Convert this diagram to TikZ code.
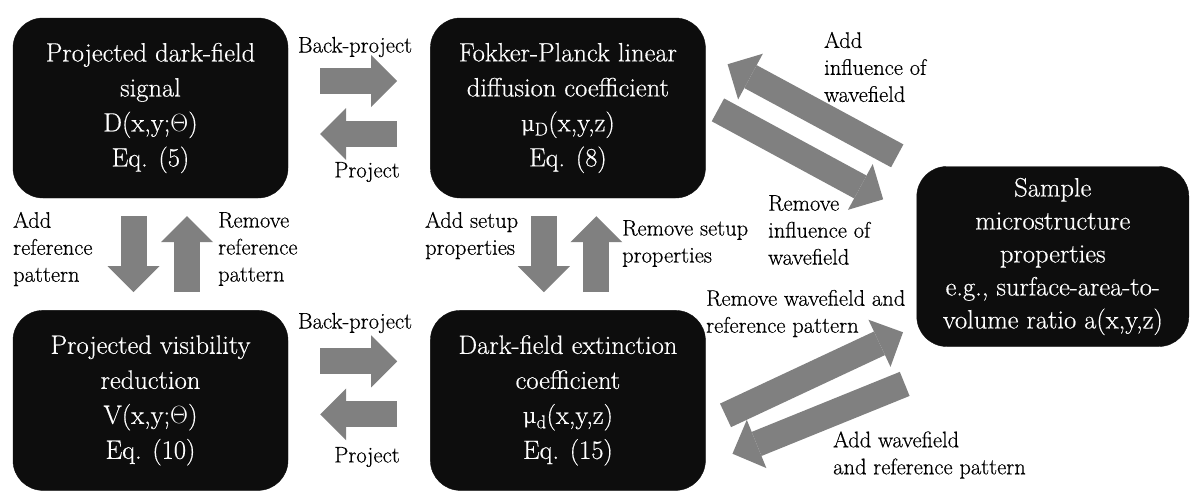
\documentclass[tikz,border=0pt]{standalone}
\usepackage{fontspec}
\newfontfamily\boxrm{Latin Modern Roman}[FakeBold=0.5]
\newfontfamily\greekfont{DejaVu Serif}
\usepackage{tikz}
\usetikzlibrary{positioning,arrows.meta}
\definecolor{boxblack}{RGB}{13,13,13}
\definecolor{arrowgray}{RGB}{128,128,128}
\newcommand{\mumu}{{\greekfont\fontsize{0.8em}{0pt}\selectfont μ}}

\begin{document}
\begin{tikzpicture}[
    x=1pt, y=-1pt,
    quantity/.style={rectangle, rounded corners=30pt, minimum width=275pt, minimum height=180pt, align=center, fill=boxblack, draw=boxblack, text=white, font=\boxrm\fontsize{26.5pt}{35pt}\selectfont, execute at begin node={\rule{0pt}{\baselineskip}}},
    note/.style={inner sep=0pt, font=\boxrm\fontsize{22.5pt}{27pt}\selectfont},
    fat/.style={draw=arrowgray, line width=26pt, -{Triangle[width=52pt, length=26pt, line width=0pt]}},
    node distance=112pt and 142pt
]
    \useasboundingbox (0,0) rectangle (1196,501);

    \node[quantity] (projD) at (150.5,108) {Projected dark-field\\signal\\D(x,y;$\Theta$)\\Eq. (5)};
    \node[quantity, right=of projD] (fokker) {Fokker-Planck linear\\diffusion coefficient\\\mumu\textsubscript{D}(x,y,z)\\Eq. (8)};
    \node[quantity, below=of projD] (projV) {Projected visibility\\reduction\\V(x,y;$\Theta$)\\Eq. (10)};
    \node[quantity, below=of fokker] (extinct) {Dark-field extinction\\coefficient\\\mumu\textsubscript{d}(x,y,z)\\Eq. (15)};
    \node[quantity, minimum width=272pt, font=\boxrm\fontsize{26.5pt}{33pt}\selectfont, right=211pt of fokker, yshift=-148.5pt] (sample) {Sample\\microstructure\\properties\\e.g., surface-area-to-\\volume ratio a(x,y,z)};

    \node[note] (bpUp) at (355,47) {Back-project};
    \node[note] (pUp) at (367,172) {Project};
    \node[note] (bpLow) at (355,323) {Back-project};
    \node[note] (pLow) at (367,457) {Project};
    \node[note, anchor=west, align=left] (addRef) at (13,249) {Add\\reference\\pattern};
    \node[note, anchor=west, align=left] (remRef) at (218,249) {Remove\\reference\\pattern};
    \node[note, anchor=west, align=left] (addSetup) at (425,235.5) {Add setup\\properties};
    \node[note, anchor=west, align=left] (remSetup) at (622,243.5) {Remove setup\\properties};
    \node[note, anchor=west, align=left] (addInfl) at (824,67) {Add\\influence of\\wavefield};
    \node[note, anchor=west, align=left] (remInfl) at (768,230) {Remove\\influence of\\wavefield};
    \node[note, anchor=west, align=left] (remWave) at (706,313.5) {Remove wavefield and\\reference pattern};
    \node[note, anchor=west, align=left] (addWave) at (833,455) {Add wavefield\\and reference pattern};

    \draw[fat, shorten <=32pt, shorten >=33pt] ([yshift=27pt]projD.east) -- ([yshift=27pt]fokker.west);
    \draw[fat, shorten <=33pt, shorten >=32pt] ([yshift=-26pt]fokker.west) -- ([yshift=-26pt]projD.east);
    \draw[fat, shorten <=32pt, shorten >=33pt] ([yshift=39pt]projV.east) -- ([yshift=39pt]extinct.west);
    \draw[fat, shorten <=33pt, shorten >=32pt] ([yshift=-14pt]extinct.west) -- ([yshift=-14pt]projV.east);

    \draw[fat, shorten <=18pt, shorten >=18pt] ([xshift=-17pt]projD.south) -- ([xshift=-17pt]projV.north);
    \draw[fat, shorten <=18pt, shorten >=18pt] ([xshift=36.5pt]projV.north) -- ([xshift=36.5pt]projD.south);
    \draw[fat, shorten <=18pt, shorten >=18pt] ([xshift=-24pt]fokker.south) -- ([xshift=-24pt]extinct.north);
    \draw[fat, shorten <=18pt, shorten >=18pt] ([xshift=28.5pt]extinct.north) -- ([xshift=28.5pt]fokker.south);

    \draw[fat, shorten <=22pt, shorten >=25pt] (sample.north west) -- (fokker.22);
    \draw[fat, shorten <=14pt, shorten >=38pt] (fokker.2) -- (sample.164);
    \draw[fat, shorten <=22pt, shorten >=15pt] (extinct.-10) -- (sample.207);
    \draw[fat, shorten <=99pt, shorten >=29pt] (sample.238) -- (extinct.-25.6);
\end{tikzpicture}
\end{document}
